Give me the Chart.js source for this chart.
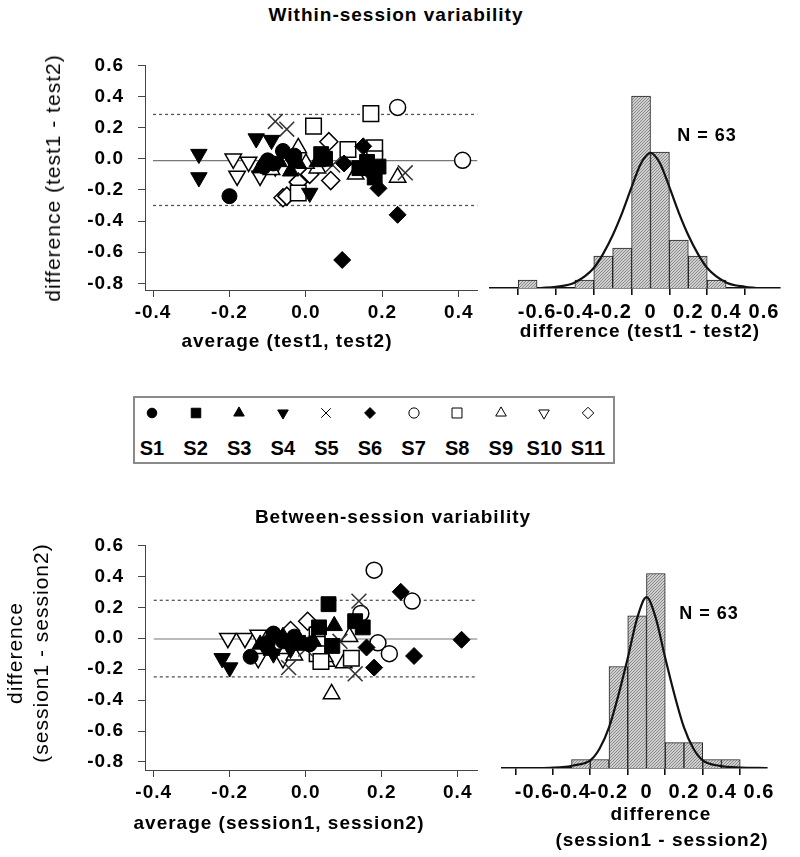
<!DOCTYPE html>
<html>
<head>
<meta charset="utf-8">
<script src="https://cdn.jsdelivr.net/npm/chart.js@4.4.0/dist/chart.umd.min.js"></script>
<style>
body { margin: 0; background: #fff; }
#page { position: relative; width: 800px; height: 857px; overflow: hidden;
        font-family: "Liberation Sans", Arial, sans-serif; color: #000; }
#page canvas { position: absolute; }
.t { position: absolute; white-space: nowrap; transform: translate(-50%, -50%); letter-spacing: 1px; }
.b { font-weight: bold; }
.rot { transform: translate(-50%, -50%) rotate(-90deg); }
#legend { position: absolute; left: 133px; top: 396px; width: 478px; height: 64px; border: 2px solid #8a8a8a; }
</style>
</head>
<body>
<div id="page">
  <canvas id="within" width="490" height="320" style="left:0;top:40px"></canvas>
  <canvas id="withinHist" width="315" height="320" style="left:485px;top:40px"></canvas>
  <canvas id="between" width="490" height="320" style="left:0;top:520px"></canvas>
  <canvas id="betweenHist" width="315" height="320" style="left:485px;top:520px"></canvas>

  <div class="t b" style="left:396px;top:15px;font-size:19px">Within-session variability</div>
  <div class="t rot" style="left:53px;top:178px;font-size:21px">difference (test1 - test2)</div>
  <div class="t b" style="left:287px;top:341px;font-size:19px">average (test1, test2)</div>
  <div class="t b" style="left:640px;top:331px;font-size:19px">difference (test1 - test2)</div>
  <div class="t b" style="left:707px;top:135px;font-size:18px">N = 63</div>

  <div id="legend"></div>

  <div class="t b" style="left:393px;top:517px;font-size:19px">Between-session variability</div>
  <div class="t rot" style="left:15px;top:653px;font-size:21px">difference</div>
  <div class="t rot" style="left:41px;top:653px;font-size:21px">(session1 - session2)</div>
  <div class="t b" style="left:279px;top:823px;font-size:19px">average (session1, session2)</div>
  <div class="t b" style="left:661px;top:814px;font-size:19px">difference</div>
  <div class="t b" style="left:662px;top:840px;font-size:19px">(session1 - session2)</div>
  <div class="t b" style="left:709px;top:613px;font-size:18px">N = 63</div>
</div>

<script>
    /* Labels and ticks */

var subjects = ['S1', 'S2', 'S3', 'S4', 'S5', 'S6', 'S7', 'S8', 'S9', 'S10', 'S11'];
var xTicks = [-0.4, -0.2, 0, 0.2, 0.4];
var xTickLabels = ['-0.4', '-0.2', '0.0', '0.2', '0.4'];
var yTicks = [0.6, 0.4, 0.2, 0, -0.2, -0.4, -0.6, -0.8];
var yTickLabels = ['0.6', '0.4', '0.2', '0.0', '-0.2', '-0.4', '-0.6', '-0.8'];
var histTicks = [-0.6, -0.4, -0.2, 0, 0.2, 0.4, 0.6];
var histTickLabels = ['-0.6', '-0.4', '-0.2', '0', '0.2', '0.4', '0.6'];

    /* Within-session: [average, difference] per subject */

var w1 = [[-0.20, -0.24], [-0.10, -0.01], [-0.06, 0.05], [-0.085, -0.03], [-0.03, 0.02], [-0.11, -0.05]];
var w2 = [[0.04, 0.03], [0.05, 0.0], [0.14, -0.06], [0.19, -0.05], [0.18, -0.12], [0.16, -0.02]];
var w3 = [[-0.04, -0.08], [-0.12, -0.06], [-0.02, -0.03], [0.03, -0.02], [-0.07, -0.02]];
var w4 = [[-0.28, 0.03], [-0.28, -0.12], [-0.13, 0.13], [-0.09, 0.12], [0.01, -0.22], [-0.04, 0.0]];
var w5 = [[-0.08, 0.24], [-0.05, 0.19], [0.07, -0.04], [0.26, -0.09], [0.04, 0.01]];
var w6 = [[0.15, 0.08], [0.10, -0.03], [0.19, -0.19], [0.24, -0.36], [0.095, -0.65], [0.17, -0.09]];
var w7 = [[0.24, 0.33], [0.41, -0.01]];
var w8 = [[0.17, 0.29], [0.02, 0.21], [0.11, 0.06], [0.18, 0.07], [-0.02, -0.22], [0.18, 0.0]];
var w9 = [[-0.02, 0.07], [0.03, -0.06], [0.13, -0.10], [0.24, -0.12], [0.0, -0.03], [-0.09, -0.07]];
var w10 = [[-0.19, 0.0], [-0.18, -0.11], [-0.15, -0.02], [-0.12, -0.11], [-0.08, -0.05]];
var w11 = [[-0.06, -0.25], [-0.02, -0.15], [0.06, 0.11], [0.065, -0.14], [-0.05, -0.24], [0.01, -0.10]];
var withinLimits = [0.285, -0.012, -0.30];

    /* Between-session: [average, difference] per subject */

var b1 = [[-0.145, -0.12], [-0.085, 0.03], [-0.10, -0.03], [-0.06, -0.02], [-0.03, 0.01], [0.01, -0.04]];
var b2 = [[0.06, 0.22], [0.13, 0.11], [0.15, 0.07], [0.07, -0.05], [0.035, 0.07], [-0.02, -0.03]];
var b3 = [[0.075, 0.08], [-0.12, -0.04], [-0.06, 0.01], [0.02, -0.02], [-0.09, -0.08]];
var b4 = [[-0.22, -0.13], [-0.20, -0.19], [-0.085, -0.10], [-0.04, -0.07], [-0.11, -0.05]];
var b5 = [[-0.045, -0.19], [0.13, -0.23], [0.14, 0.24], [0.0, -0.07], [0.09, -0.02]];
var b6 = [[0.25, 0.30], [0.16, -0.06], [0.18, -0.19], [0.285, -0.115], [0.41, -0.01]];
var b7 = [[0.18, 0.44], [0.28, 0.24], [0.145, 0.16], [0.19, -0.03], [0.22, -0.10]];
var b8 = [[0.03, 0.02], [0.03, -0.04], [0.03, -0.10], [0.12, -0.13], [0.04, -0.15]];
var b9 = [[0.115, 0.01], [0.055, -0.15], [0.10, -0.16], [0.068, -0.36], [0.05, -0.12], [-0.03, -0.11]];
var b10 = [[-0.205, 0.0], [-0.16, 0.0], [-0.125, -0.13], [-0.125, 0.02], [-0.06, -0.13]];
var b11 = [[0.005, 0.11], [-0.04, 0.05], [0.02, -0.06]];
var betweenLimits = [0.245, -0.005, -0.25];

    /* Histograms (bin width 0.1) and fitted curves */

var withinBins = [-0.65, -0.35, -0.25, -0.15, -0.05, 0.05, 0.15, 0.25, 0.35];
var withinCounts = [1, 1, 4, 5, 24, 17, 6, 4, 1];
var withinCurveX = [-0.58, -0.5, -0.4, -0.3, -0.25, -0.2, -0.15, -0.1, -0.05, 0, 0.05, 0.1, 0.15, 0.2, 0.25, 0.3, 0.4, 0.5, 0.56];
var withinCurveY = [0, 0.15, 0.7, 2.5, 4.3, 6.6, 9.4, 12.6, 15.6, 16.9, 15.6, 12.6, 9.4, 6.6, 4.3, 2.5, 0.7, 0.15, 0];

var betweenBins = [-0.35, -0.25, -0.15, -0.05, 0.05, 0.15, 0.25, 0.35, 0.45];
var betweenCounts = [1, 1, 12, 18, 23, 3, 3, 1, 1];
var betweenCurveX = [-0.55, -0.45, -0.39, -0.3, -0.25, -0.2, -0.15, -0.1, -0.05, 0, 0.05, 0.1, 0.15, 0.2, 0.25, 0.3, 0.39, 0.5, 0.64];
var betweenCurveY = [0, 0.1, 0.3, 0.9, 2.3, 4.8, 8.6, 13.0, 17.7, 20.2, 17.7, 13.0, 8.6, 4.8, 2.3, 0.9, 0.25, 0.05, 0];

    /* Marker look per subject */

var markers = [
    { pointStyle: 'circle',   radius: 7.5,  fill: true },
    { pointStyle: 'rect',     radius: 10.5, fill: true },
    { pointStyle: 'triangle', radius: 9.5,  fill: true },
    { pointStyle: 'triangle', radius: 9.5,  fill: true, rotation: 180 },
    { pointStyle: 'crossRot', radius: 10.5, cross: true },
    { pointStyle: 'rectRot',  radius: 8.5,  fill: true },
    { pointStyle: 'circle',   radius: 8 },
    { pointStyle: 'rect',     radius: 11 },
    { pointStyle: 'triangle', radius: 9.5 },
    { pointStyle: 'triangle', radius: 9.5,  rotation: 180 },
    { pointStyle: 'rectRot',  radius: 9 }
];

var FONT = "'Liberation Sans', Arial, sans-serif";
Chart.defaults.font.family = FONT;
Chart.defaults.color = '#000';

const spacing = { id: 'spacing', beforeDraw(chart) { chart.ctx.letterSpacing = '1px'; } };

function axisStyle(col, w) {
    return {
        grid: { drawOnChartArea: false, drawTicks: true, tickLength: 7, color: col, lineWidth: w },
        border: { display: true, color: col, width: w }
    };
}

function scatterChart(id, groups, limits, xMin, xMax, yMin, yMax, padTop) {
    const datasets = groups.map(function (pts, i) {
        const m = markers[i];
        return {
            type: 'scatter',
            label: subjects[i],
            data: pts.map(p => ({ x: p[0], y: p[1] })),
            pointStyle: m.pointStyle,
            pointRadius: m.radius,
            pointRotation: m.rotation || 0,
            pointBackgroundColor: m.fill ? '#000' : '#fff',
            pointBorderColor: m.cross ? '#333' : '#000',
            pointBorderWidth: m.fill ? 1 : 1.5,
            order: i
        };
    });
    limits.forEach(function (v, j) {
        datasets.push({
            type: 'line',
            data: [{ x: -0.40, y: v }, { x: xMax, y: v }],
            showLine: true,
            borderColor: j === 1 ? '#777' : '#555',
            borderWidth: j === 1 ? 1.2 : 1.3,
            borderDash: j === 1 ? [] : [3, 3],
            pointRadius: 0,
            order: 100
        });
    });
    const xs = axisStyle('#444', 1), ys = axisStyle('#444', 1);
    return new Chart(document.getElementById(id), {
        type: 'scatter',
        data: { datasets: datasets },
        plugins: [spacing],
        options: {
            responsive: false, animation: false, devicePixelRatio: 1,
            layout: { padding: { left: 0, right: 10, top: padTop, bottom: 0 } },
            plugins: { legend: { display: false }, tooltip: { enabled: false } },
            scales: {
                x: {
                    type: 'linear', min: xMin, max: xMax,
                    afterBuildTicks: a => { a.ticks = xTicks.map(v => ({ value: v })); },
                    afterFit: a => { a.height = 70; },
                    ticks: { callback: (v, i) => xTickLabels[i], font: { size: 19, weight: 'bold' }, color: '#000',
                             padding: 4, autoSkip: false, maxRotation: 0 },
                    grid: xs.grid, border: xs.border
                },
                y: {
                    type: 'linear', min: yMin, max: yMax,
                    afterBuildTicks: a => { a.ticks = yTicks.map(v => ({ value: v })); },
                    afterFit: a => { a.width = 145; },
                    ticks: { callback: (v, i) => yTickLabels[i], font: { size: 19, weight: 'bold' }, color: '#000',
                             padding: 14, autoSkip: false },
                    grid: ys.grid, border: ys.border
                }
            }
        }
    });
}

function hatch() {
    const c = document.createElement('canvas');
    c.width = 3; c.height = 3;
    const g = c.getContext('2d');
    g.fillStyle = '#cfcfcf';
    g.fillRect(0, 0, 3, 3);
    g.fillStyle = '#8a8a8a';
    for (let i = 0; i < 3; i++) g.fillRect(i, 2 - i, 1, 1);
    return g.createPattern(c, 'repeat');
}

function histChart(id, bins, counts, cx, cy, xMin, xMax, yMax, pad) {
    const xs = axisStyle('#111', 1.6);
    return new Chart(document.getElementById(id), {
        type: 'bar',
        data: {
            datasets: [
                {
                    type: 'line',
                    data: cx.map((x, i) => ({ x: x, y: cy[i] })),
                    borderColor: '#111', borderWidth: 2.2, pointRadius: 0,
                    cubicInterpolationMode: 'monotone', order: 0
                },
                {
                    type: 'bar',
                    data: bins.map((x, i) => ({ x: x, y: counts[i] })),
                    backgroundColor: hatch(), borderColor: '#222', borderWidth: 1,
                    barPercentage: 1, categoryPercentage: 1, order: 1
                }
            ]
        },
        plugins: [spacing],
        options: {
            responsive: false, animation: false, devicePixelRatio: 1,
            layout: { padding: pad },
            plugins: { legend: { display: false }, tooltip: { enabled: false } },
            scales: {
                x: {
                    type: 'linear', min: xMin, max: xMax, offset: false,
                    afterBuildTicks: a => { a.ticks = histTicks.map(v => ({ value: v })); },
                    afterFit: a => { a.height = 72; },
                    ticks: { callback: (v, i) => histTickLabels[i], font: { size: 20, weight: 'bold' }, color: '#000',
                             padding: 5, autoSkip: false, maxRotation: 0 },
                    grid: xs.grid, border: xs.border
                },
                y: { display: false, min: 0, max: yMax }
            }
        }
    });
}

scatterChart('within', [w1, w2, w3, w4, w5, w6, w7, w8, w9, w10, w11], withinLimits, -0.421, 0.449, -0.843, 0.6, 25);
scatterChart('between', [b1, b2, b3, b4, b5, b6, b7, b8, b9, b10, b11], betweenLimits, -0.423, 0.452, -0.852, 0.6, 24);
histChart('withinHist', withinBins, withinCounts, withinCurveX, withinCurveY, -0.849, 0.685, 26,
          { left: 5, right: 20, top: 40, bottom: 0 });
histChart('betweenHist', betweenBins, betweenCounts, betweenCurveX, betweenCurveY, -0.771, 0.643, 24.6,
          { left: 17, right: 33, top: 40, bottom: 0 });

    /* Legend box */

var legend = document.getElementById('legend');
subjects.forEach(function (name, i) {
    const cx = 152 + i * 43.6 - 135;
    const cv = document.createElement('canvas');
    cv.width = 22; cv.height = 22;
    cv.style.left = (cx - 11) + 'px';
    cv.style.top = (17 - 11 - 2) + 'px';
    legend.appendChild(cv);
    const m = markers[i];
    const g = cv.getContext('2d');
    g.fillStyle = m.fill ? '#000' : '#fff';
    g.strokeStyle = '#000';
    g.lineWidth = 1;
    Chart.helpers.drawPoint(g, { pointStyle: m.pointStyle, rotation: m.rotation || 0,
        radius: m.radius * 0.64, borderWidth: 1 }, 11, 11);
    const lab = document.createElement('div');
    lab.className = 't b';
    lab.style.left = cx + 'px';
    lab.style.top = (52 - 2) + 'px';
    lab.style.fontSize = '20px';
    lab.style.letterSpacing = '0';
    lab.textContent = name;
    legend.appendChild(lab);
});
</script>
</body>
</html>
